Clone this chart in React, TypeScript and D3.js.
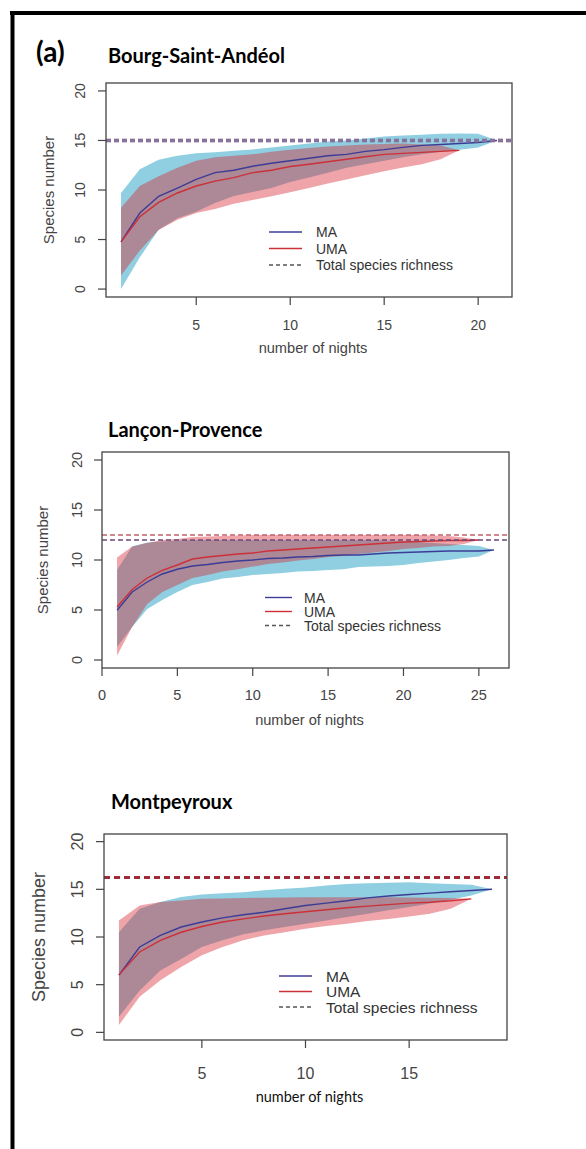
import * as d3 from "d3"

// Bourg-Saint-Andéol
const bsaMA = [4.77, 7.67, 9.37, 10.2, 11.07, 11.75, 12.0, 12.4, 12.7, 12.95, 13.2, 13.45, 13.6, 13.9, 14.07, 14.3, 14.5, 14.6, 14.7, 14.8, 15]
const bsaMAHi = [9.7, 12.1, 13.05, 13.45, 13.7, 13.8, 13.97, 14.1, 14.3, 14.5, 14.7, 14.9, 15.0, 15.2, 15.4, 15.5, 15.57, 15.67, 15.7, 15.67, 15]
const bsaMALo = [0, 3.2, 6.0, 7.15, 7.8, 8.7, 9.4, 9.8, 10.2, 10.8, 11.25, 11.75, 12.25, 12.6, 12.95, 13.3, 13.6, 13.87, 14.07, 14.3, 15]
const bsaUMA = [4.77, 7.3, 8.75, 9.7, 10.4, 10.9, 11.25, 11.75, 12.0, 12.37, 12.6, 12.85, 13.1, 13.35, 13.6, 13.7, 13.8, 13.9, 14]
const bsaUMAHi = [8.2, 10.4, 11.4, 12.25, 12.95, 13.3, 13.45, 13.6, 13.87, 14.07, 14.25, 14.4, 14.5, 14.6, 14.65, 14.7, 14.6, 14.5, 14]
const bsaUMALo = [1.36, 3.9, 5.96, 7.0, 7.67, 8.07, 8.6, 9.0, 9.37, 9.78, 10.2, 10.66, 11.07, 11.5, 11.9, 12.26, 12.6, 13.1, 14]
const bsaTotal = [15, 15] // MA, UMA

// Lançon-Provence
const lpMA = [4.97, 6.8, 7.8, 8.6, 9.07, 9.4, 9.55, 9.75, 9.9, 10.0, 10.15, 10.2, 10.3, 10.35, 10.45, 10.5, 10.5, 10.6, 10.7, 10.75, 10.8, 10.85, 10.9, 10.9, 10.9, 11]
const lpMAHi = [9.0, 11.36, 11.76, 11.85, 11.95, 12, 12, 12, 12, 12, 12, 12, 12, 12, 12, 12, 12, 12, 11.95, 11.9, 11.8, 11.7, 11.6, 11.5, 11.4, 11]
const lpMALo = [1.3, 3.3, 5.1, 6.0, 6.8, 7.5, 7.8, 8.15, 8.3, 8.5, 8.6, 8.7, 8.85, 8.9, 9.0, 9.07, 9.3, 9.34, 9.4, 9.5, 9.7, 9.85, 10.0, 10.2, 10.35, 11]
const lpUMA = [5.3, 7.05, 8.2, 8.97, 9.5, 10.1, 10.3, 10.45, 10.6, 10.7, 10.9, 11.0, 11.1, 11.2, 11.3, 11.4, 11.5, 11.6, 11.7, 11.8, 11.85, 11.9, 11.95, 11.95, 12]
const lpUMAHi = [10.25, 11.36, 11.7, 12.0, 12.1, 12.3, 12.35, 12.4, 12.45, 12.5, 12.5, 12.5, 12.5, 12.5, 12.5, 12.5, 12.5, 12.5, 12.5, 12.5, 12.5, 12.45, 12.4, 12.25, 12]
const lpUMALo = [0.45, 3.3, 5.6, 6.8, 7.5, 8.2, 8.5, 8.85, 9.07, 9.34, 9.6, 9.75, 9.95, 10.1, 10.3, 10.4, 10.6, 10.75, 10.9, 11.1, 11.2, 11.35, 11.4, 11.6, 12]
const lpTotal = [12, 12.5]

// Montpeyroux
const mpMA = [6.0, 8.95, 10.17, 11.05, 11.57, 12.0, 12.33, 12.6, 12.96, 13.3, 13.55, 13.8, 14.1, 14.3, 14.46, 14.6, 14.74, 14.88, 15]
const mpMAHi = [10.5, 12.96, 13.66, 14.2, 14.46, 14.6, 14.7, 14.9, 15.05, 15.2, 15.4, 15.57, 15.64, 15.7, 15.75, 15.64, 15.57, 15.47, 15]
const mpMALo = [1.64, 4.4, 6.5, 7.7, 8.95, 9.65, 10.28, 10.7, 11.05, 11.4, 11.74, 12.1, 12.44, 12.8, 13.14, 13.5, 13.9, 14.35, 15]
const mpUMA = [6.03, 8.43, 9.65, 10.5, 11.1, 11.57, 11.9, 12.2, 12.44, 12.65, 12.86, 13.07, 13.24, 13.4, 13.55, 13.65, 13.8, 14]
const mpUMAHi = [11.74, 13.3, 13.66, 13.83, 14.0, 14.05, 14.1, 14.12, 14.15, 14.18, 14.18, 14.18, 14.18, 14.18, 14.15, 14.12, 14.08, 14]
const mpUMALo = [0.77, 3.73, 5.47, 6.86, 8.08, 8.95, 9.65, 10.17, 10.5, 10.87, 11.15, 11.4, 11.67, 11.9, 12.16, 12.44, 12.96, 14]
const mpTotal = [16.25, 16.25]

const yTicks = [0, 5, 10, 15, 20]
const legendLabels = ["MA", "UMA", "Total species richness"]

const MA_LINE = "#3c3c96"
const UMA_LINE = "#cc3038"
const MA_FILL = "#8fcfe1"
const UMA_FILL = "#d72530"
const AXIS = "#444"

const sans = "'Liberation Sans', Arial, sans-serif"
const titleFont = "Lato, 'Open Sans', sans-serif"

type PanelProps = {
  title: string
  ma: number[]; maHi: number[]; maLo: number[]
  uma: number[]; umaHi: number[]; umaLo: number[]
  total: number[]
  xTicks: number[]
  xDomain: [number, number]
  box: { left: number; right: number; top: number; bottom: number }
  titleY: number
  titleX: number
  titleSize: number
  tickSize: number
  labelSize: number
  legendSize: number
  legend: { x1: number; x2: number; tx: number; y: number; gap: number }
  yLabX: number
  yTitleX: number
  xLabY: number
  xTitleY: number
  xTitleFont: string
  xTitleSize: number
  totalStyle: { ma: string; uma: string; width: number; dash: string; maOpacity: number }
}

function Panel(p: PanelProps) {
  const { box } = p
  const x = d3.scaleLinear().domain(p.xDomain).range([box.left, box.right])
  const y = d3.scaleLinear().domain([-0.8, 20.8]).range([box.bottom, box.top])

  const band = (lo: number[], hi: number[]) =>
    d3.area<number>()
      .x((_, i) => x(i + 1))
      .y0((_, i) => y(lo[i]))
      .y1((_, i) => y(hi[i]))(lo) || ""
  const line = (v: number[]) =>
    d3.line<number>().x((_, i) => x(i + 1)).y((d) => y(d))(v) || ""

  const midX = (box.left + box.right) / 2
  const midY = (box.top + box.bottom) / 2

  return (
    <g>
      <text x={p.titleX} y={p.titleY} fontFamily={titleFont} fontWeight={700} fontSize={p.titleSize} fill="#000">{p.title}</text>

      <path d={band(p.maLo, p.maHi)} fill={MA_FILL} />
      <path d={band(p.umaLo, p.umaHi)} fill={UMA_FILL} fillOpacity={0.42} />
      <path d={line(p.ma)} fill="none" stroke={MA_LINE} strokeWidth={1.4} />
      <path d={line(p.uma)} fill="none" stroke={UMA_LINE} strokeWidth={1.4} />

      <line x1={box.left} x2={box.right} y1={y(p.total[1])} y2={y(p.total[1])}
        stroke={p.totalStyle.uma} strokeWidth={p.totalStyle.width} strokeDasharray={p.totalStyle.dash} />
      <line x1={box.left} x2={box.right} y1={y(p.total[0])} y2={y(p.total[0])}
        stroke={p.totalStyle.ma} strokeWidth={p.totalStyle.width} strokeDasharray={p.totalStyle.dash}
        strokeOpacity={p.totalStyle.maOpacity} />

      <rect x={box.left} y={box.top} width={box.right - box.left} height={box.bottom - box.top}
        fill="none" stroke={AXIS} strokeWidth={1.3} />

      {yTicks.map((t) => (
        <g key={"y" + t}>
          <line x1={box.left - 8} x2={box.left} y1={y(t)} y2={y(t)} stroke={AXIS} strokeWidth={1.2} />
          <text transform={`translate(${p.yLabX},${y(t)}) rotate(-90)`} textAnchor="middle"
            dominantBaseline="central" fontFamily={sans} fontSize={p.tickSize} fill={AXIS}>{t}</text>
        </g>
      ))}
      {p.xTicks.map((t) => (
        <g key={"x" + t}>
          <line x1={x(t)} x2={x(t)} y1={box.bottom} y2={box.bottom + 8} stroke={AXIS} strokeWidth={1.2} />
          <text x={x(t)} y={p.xLabY} textAnchor="middle" fontFamily={sans} fontSize={p.tickSize} fill={AXIS}>{t}</text>
        </g>
      ))}

      <text transform={`translate(${p.yTitleX},${midY}) rotate(-90)`} textAnchor="middle"
        dominantBaseline="central" fontFamily={sans} fontSize={p.labelSize} fill={AXIS}>Species number</text>
      <text x={midX + 4} y={p.xTitleY} textAnchor="middle" fontFamily={p.xTitleFont}
        fontSize={p.xTitleSize} fill={p.xTitleFont === sans ? AXIS : "#111"}>number of nights</text>

      {legendLabels.map((lab, i) => {
        const ly = p.legend.y + i * p.legend.gap
        const stroke = i === 0 ? MA_LINE : i === 1 ? UMA_LINE : "#555"
        return (
          <g key={lab}>
            <line x1={p.legend.x1} x2={p.legend.x2} y1={ly} y2={ly} stroke={stroke} strokeWidth={1.4}
              strokeDasharray={i === 2 ? "4,3" : undefined} />
            <text x={p.legend.tx} y={ly} dominantBaseline="central" fontFamily={sans}
              fontSize={p.legendSize} fill="#333">{lab}</text>
          </g>
        )
      })}
    </g>
  )
}

export default function App() {
  return (
    <svg width={586} height={1149} style={{ position: "absolute", left: 0, top: 0, display: "block", background: "#fff" }}>
      <rect width={586} height={1149} fill="#fff" />
      <line x1={10} x2={586} y1={13} y2={13} stroke="#000" strokeWidth={4} />
      <line x1={12.5} x2={12.5} y1={11} y2={1149} stroke="#000" strokeWidth={4} />
      <text x={36} y={62} fontFamily={titleFont} fontWeight={700} fontSize={28} fill="#000">(a)</text>

      <Panel
        title="Bourg-Saint-Andéol"
        ma={bsaMA} maHi={bsaMAHi} maLo={bsaMALo}
        uma={bsaUMA} umaHi={bsaUMAHi} umaLo={bsaUMALo}
        total={bsaTotal}
        xTicks={[5, 10, 15, 20]}
        xDomain={[0.2, 21.8]}
        box={{ left: 106, right: 512, top: 83, bottom: 297 }}
        titleX={108} titleY={63} titleSize={20}
        tickSize={14} labelSize={15} legendSize={14}
        legend={{ x1: 269, x2: 302, tx: 316, y: 232, gap: 16.5 }}
        yLabX={80} yTitleX={48} xLabY={330} xTitleY={353}
        xTitleFont={sans} xTitleSize={14.6}
        totalStyle={{ ma: "#6a6aa8", uma: "#a87c8c", width: 3.5, dash: "5,3", maOpacity: 0.55 }}
      />
      <Panel
        title="Lançon-Provence"
        ma={lpMA} maHi={lpMAHi} maLo={lpMALo}
        uma={lpUMA} umaHi={lpUMAHi} umaLo={lpUMALo}
        total={lpTotal}
        xTicks={[0, 5, 10, 15, 20, 25]}
        xDomain={[0, 27]}
        box={{ left: 102, right: 509, top: 452, bottom: 668 }}
        titleX={108} titleY={437} titleSize={20}
        tickSize={14.5} labelSize={15} legendSize={14}
        legend={{ x1: 265, x2: 292, tx: 304, y: 597.5, gap: 14 }}
        yLabX={77} yTitleX={42} xLabY={700} xTitleY={725}
        xTitleFont={sans} xTitleSize={14.6}
        totalStyle={{ ma: "#6a4878", uma: "#c0606c", width: 1.6, dash: "5,3", maOpacity: 1 }}
      />
      <Panel
        title="Montpeyroux"
        ma={mpMA} maHi={mpMAHi} maLo={mpMALo}
        uma={mpUMA} umaHi={mpUMAHi} umaLo={mpUMALo}
        total={mpTotal}
        xTicks={[5, 10, 15]}
        xDomain={[0.28, 19.72]}
        box={{ left: 104, right: 507, top: 834, bottom: 1040 }}
        titleX={111} titleY={809} titleSize={20}
        tickSize={16} labelSize={18} legendSize={15.5}
        legend={{ x1: 279, x2: 312, tx: 326, y: 976, gap: 15.5 }}
        yLabX={77} yTitleX={39} xLabY={1079} xTitleY={1102}
        xTitleFont={titleFont} xTitleSize={14.5}
        totalStyle={{ ma: "#8a3040", uma: "#b02830", width: 3, dash: "6,4", maOpacity: 0.4 }}
      />
    </svg>
  )
}
